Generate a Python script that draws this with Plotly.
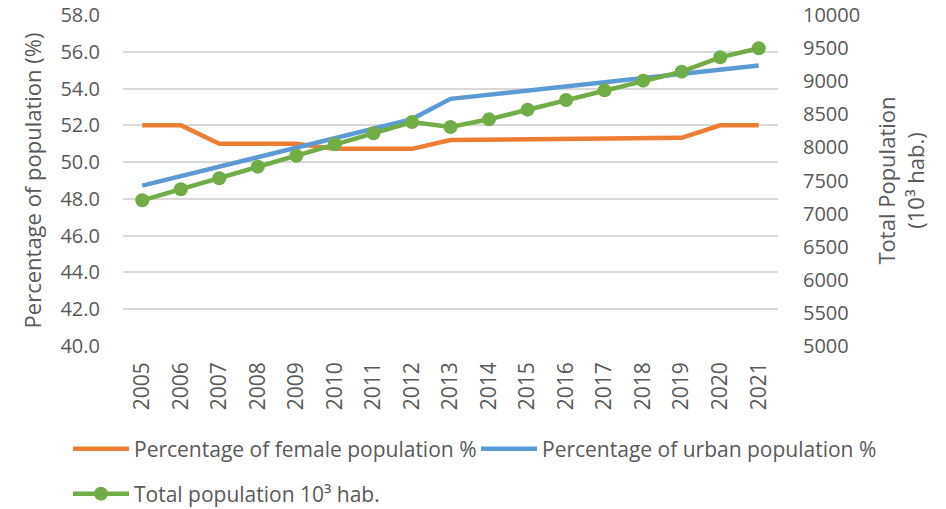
import plotly.graph_objects as go

years = [str(y) for y in range(2005, 2022)]
female_pct = [52.0, 52.0, 51.0, 51.0, 51.0, 50.72, 50.72, 50.72, 51.2, 51.21, 51.23, 51.25, 51.27, 51.3, 51.32, 52.0, 52.0]
urban_pct = [48.72, 49.24, 49.76, 50.27, 50.78, 51.3, 51.82, 52.34, 53.44, 53.67, 53.9, 54.13, 54.36, 54.59, 54.82, 55.05, 55.25]
total_pop = [7201, 7367, 7533, 7709, 7875, 8047, 8213, 8384, 8308, 8424, 8570, 8716, 8862, 9008, 9144, 9361, 9497]

FONT = "Open Sans"
GREY = "#595959"
W, H = 946, 509

fig = go.Figure()
fig.add_trace(go.Scatter(x=years, y=female_pct, name="Percentage of female population %",
                         mode="lines", line=dict(color="#ED7D31", width=4.5),
                         legend="legend", showlegend=True))
fig.add_trace(go.Scatter(x=years, y=urban_pct, name="Percentage of urban population %",
                         mode="lines", line=dict(color="#5B9BD5", width=4.5),
                         legend="legend2", showlegend=True))
fig.add_trace(go.Scatter(x=years, y=total_pop, name="Total population 10³ hab.", yaxis="y2",
                         mode="lines+markers", line=dict(color="#70AD47", width=4.5),
                         marker=dict(color="#70AD47", size=14), legend="legend3", showlegend=True))

leg_common = dict(orientation="h", xref="container", yref="container", xanchor="left",
                  yanchor="middle", itemwidth=56, font=dict(size=21, color=GREY),
                  bgcolor="rgba(0,0,0,0)", visible=True)

fig.update_layout(
    width=W, height=H,
    showlegend=True,
    margin=dict(l=123, r=168, t=15, b=163, autoexpand=False),
    plot_bgcolor="white", paper_bgcolor="white",
    font=dict(family=FONT, size=20, color=GREY),
    xaxis=dict(type="category", range=[-0.5, 16.5], tickangle=-90, showgrid=False,
               showline=False, zeroline=False, ticks="", tickfont=dict(size=21, color=GREY),
               ticklabelstandoff=11, automargin=False),
    yaxis=dict(range=[40, 58], dtick=2, tickformat=".1f", showgrid=True, gridcolor="#D9D9D9",
               gridwidth=1.5, zeroline=False, showline=False, ticks="", automargin=False,
               ticklabelstandoff=22, tickfont=dict(size=20, color=GREY),
               title=dict(text="Percentage of population (%)", font=dict(size=22, color=GREY), standoff=12)),
    yaxis2=dict(range=[5000, 10000], dtick=500, tickformat="d", overlaying="y", side="right",
                showgrid=False, zeroline=False, showline=False, ticks="", ticklabelstandoff=24,
                automargin=False, tickfont=dict(size=20, color=GREY),
                title=dict(text="Total Population<br>(10³ hab.)", font=dict(size=22, color=GREY), standoff=20)),
    legend=dict(x=68 / W, y=1 - 449 / H, **leg_common),
    legend2=dict(x=476 / W, y=1 - 449 / H, **leg_common),
    legend3=dict(x=68 / W, y=1 - 494 / H, **leg_common),
)

fig.write_html("out.html", config={"displayModeBar": False},
               post_script="document.body.style.margin='0px';")
